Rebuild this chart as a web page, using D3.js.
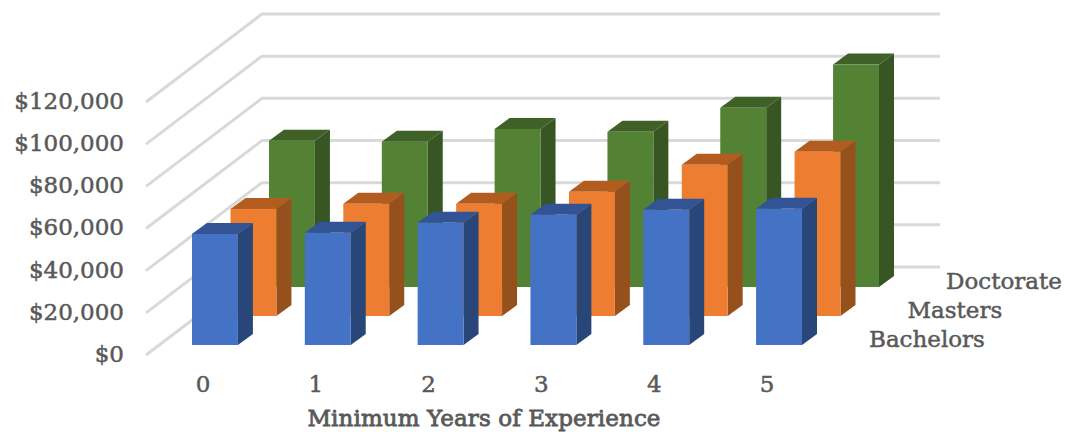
<!DOCTYPE html>
<head>
    <script src="https://d3js.org/d3.v7.min.js"></script>
    <style>
        body { margin: 0; background: #fff; }
        text { font-family: "DejaVu Serif", serif; fill: #595959; stroke: #595959; stroke-width: 0.5px; }
    </style>
</head>

<body>
    <div id="chart"></div>
</body>

<script>
    const years = ["0", "1", "2", "3", "4", "5"];
    const seriesNames = ["Bachelors", "Masters", "Doctorate"];
    const bachelors = [52700, 53200, 58000, 61800, 64100, 64600];
    const masters = [50800, 53200, 53200, 58900, 71700, 77900];
    const doctorate = [69400, 68900, 75000, 73600, 85000, 105500];
    const yTicks = [0, 20000, 40000, 60000, 80000, 100000, 120000];

    const seriesValues = [bachelors, masters, doctorate];
    const colors = [
        {front: "#4472c4", side: "#294679", top: "#325494"},
        {front: "#ed7d31", side: "#96501c", top: "#b35c20"},
        {front: "#548235", side: "#375623", top: "#3f6127"}
    ];

    const width = 1065, height = 432;
    const fontSize = "23px";

    const svg = d3.select("#chart")
        .append("svg")
        .attr("width", width)
        .attr("height", height)
        .style("display", "block");

    const y = d3.scaleLinear().domain([0, 120000]).range([355, 102]);
    const x = d3.scaleBand().domain(years).range([192, 802]).paddingInner(0.593);
    // depth axis: how far each series sits back from the front row
    const depthX = d3.scalePoint().domain(seriesNames).range([0, 77]);
    const depthY = d3.scalePoint().domain(seriesNames).range([0, -58]);

    // bars stand a little behind the front edge of the floor
    const floorShift = 10;
    const barDx = 15, barDy = -11;

    // Gridlines on the floor side and the back wall
    svg.append("g")
        .selectAll("polyline")
        .data(yTicks)
        .join("polyline")
        .attr("points", d => `146,${y(d)} 262,${y(d) - 88} 940,${y(d) - 88}`)
        .attr("fill", "none")
        .attr("stroke", "#d9d9d9")
        .attr("stroke-width", 3);

    // Bars, back row first so the front rows cover it
    const rows = svg.append("g")
        .selectAll("g")
        .data(seriesNames.map((name, i) => ({name, i})).reverse())
        .join("g");

    const bars = rows.selectAll("g")
        .data(s => years.map((year, j) => ({
            year,
            value: seriesValues[s.i][j],
            color: colors[s.i],
            left: x(year) + depthX(s.name),
            base: y(0) - floorShift + depthY(s.name)
        })))
        .join("g");

    const w = x.bandwidth();
    const topOf = d => d.base - (y(0) - y(d.value));

    bars.append("path")
        .attr("fill", d => d.color.side)
        .attr("d", d => `M${d.left + w},${d.base}L${d.left + w + barDx},${d.base + barDy}L${d.left + w + barDx},${topOf(d) + barDy}L${d.left + w},${topOf(d)}Z`);

    bars.append("path")
        .attr("fill", d => d.color.top)
        .attr("d", d => `M${d.left},${topOf(d)}L${d.left + barDx},${topOf(d) + barDy}L${d.left + w + barDx},${topOf(d) + barDy}L${d.left + w},${topOf(d)}Z`);

    bars.append("rect")
        .attr("x", d => d.left)
        .attr("y", topOf)
        .attr("width", w)
        .attr("height", d => d.base - topOf(d))
        .attr("fill", d => d.color.front);

    // Y Axis
    const yAxis = svg.append("g")
        .attr("transform", "translate(124,-1)")
        .call(d3.axisLeft(y).tickValues(yTicks).tickSize(0).tickPadding(0).tickFormat(d3.format("$,")));
    yAxis.select(".domain").remove();
    yAxis.selectAll("text")
        .style("font-size", fontSize)
        .style("font-family", '"DejaVu Serif", serif');

    // X Axis
    const xAxis = svg.append("g")
        .attr("transform", "translate(-12,384)")
        .call(d3.axisBottom(x).tickSize(0).tickPadding(0));
    xAxis.select(".domain").remove();
    xAxis.selectAll("text")
        .attr("y", 0)
        .attr("dy", "0.35em")
        .style("font-size", fontSize)
        .style("font-family", '"DejaVu Serif", serif');

    // Series labels along the depth axis
    svg.append("g")
        .selectAll("text")
        .data(seriesNames)
        .join("text")
        .attr("x", d => 869 + depthX(d))
        .attr("y", d => 339 + depthY(d))
        .attr("dy", "0.35em")
        .style("font-size", fontSize)
        .text(d => d);

    // Title
    svg.append("text")
        .attr("x", 484)
        .attr("y", 418)
        .attr("dy", "0.35em")
        .attr("text-anchor", "middle")
        .style("font-size", fontSize)
        .style("stroke-width", "0.8px")
        .style("letter-spacing", "0.1px")
        .text("Minimum Years of Experience");
</script>
</html>
